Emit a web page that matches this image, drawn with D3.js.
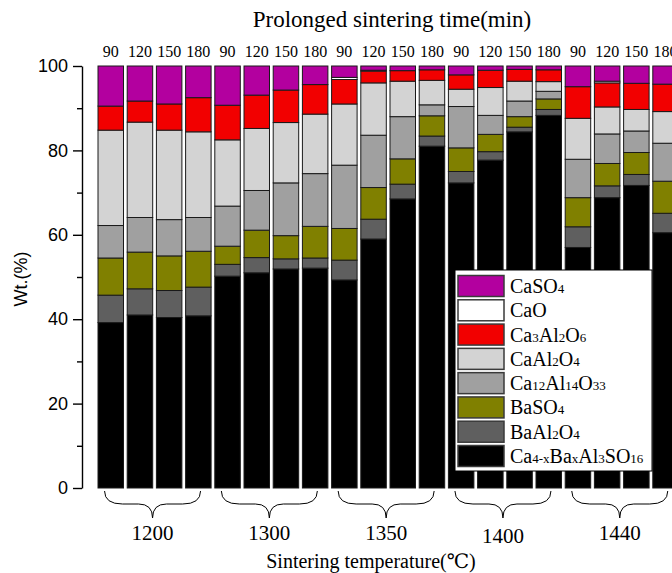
<!DOCTYPE html>
<html><head><meta charset="utf-8">
<script src="https://cdn.jsdelivr.net/npm/d3@7/dist/d3.min.js"></script>
<style>body{margin:0;background:#fff;} svg{display:block;}</style>
</head><body>
<svg id="chart" width="672" height="573"></svg>
<script>
// ---------------- DATA ----------------
const temperatures = ["1200", "1300", "1350", "1400", "1440"];
const times = ["90", "120", "150", "180"];
const yTicks = [0, 20, 40, 60, 80, 100];
const yMinorTicks = [10, 30, 50, 70, 90];

// bottom -> top stacking order
const phases = ["Ca4-xBaxAl3SO16", "BaAl2O4", "BaSO4", "Ca12Al14O33", "CaAl2O4", "Ca3Al2O6", "CaO", "CaSO4"];
const phaseColors = ["#000000", "#5f5f5f", "#808000", "#a0a0a0", "#d3d3d3", "#f20000", "#ffffff", "#b3009f"];

const caBaAlSO = [39.2, 41.0, 40.4, 40.8, 50.2, 51.0, 51.9, 52.1, 49.3, 59.0, 68.5, 81.0, 72.3, 77.7, 84.4, 88.3, 57.0, 68.8, 71.7, 60.5];
const baAl2O4  = [6.5, 6.2, 6.4, 6.8, 2.8, 3.6, 2.4, 2.4, 4.7, 4.7, 3.5, 2.4, 2.7, 2.0, 1.1, 1.4, 4.9, 2.8, 2.6, 4.6];
const baSO4    = [8.8, 8.7, 8.2, 8.5, 4.3, 6.5, 5.5, 7.5, 7.5, 7.5, 6.0, 4.8, 5.6, 4.1, 2.5, 2.5, 6.9, 5.3, 5.2, 7.6];
const ca12Al14O33 = [7.7, 8.2, 8.6, 8.0, 9.5, 9.4, 12.5, 12.5, 15.0, 12.4, 10.0, 2.6, 9.8, 4.5, 3.7, 1.8, 9.1, 7.0, 5.1, 9.0];
const caAl2O4  = [22.6, 22.6, 21.2, 20.3, 15.7, 14.7, 14.3, 14.1, 14.5, 12.4, 8.4, 5.8, 4.1, 6.6, 4.7, 2.3, 9.7, 6.4, 5.1, 7.5];
const ca3Al2O6 = [5.7, 5.0, 6.2, 8.1, 8.2, 7.9, 7.7, 7.0, 5.8, 2.8, 2.5, 2.5, 3.4, 4.1, 2.8, 2.8, 7.5, 5.7, 6.2, 6.5];
const caO      = [0, 0, 0, 0, 0, 0, 0, 0, 0.5, 0.2, 0, 0, 0, 0, 0, 0, 0, 0.4, 0, 0];
const caSO4    = [9.5, 8.3, 9.0, 7.5, 9.3, 6.9, 5.7, 4.4, 2.7, 1.0, 1.1, 0.9, 2.1, 1.0, 0.8, 0.9, 4.9, 3.6, 4.1, 4.3];

// legend (top -> bottom), label parts: [text, isSubscript]
const legendLabels = [
  [["CaSO", 0], ["4", 1]],
  [["CaO", 0]],
  [["Ca", 0], ["3", 1], ["Al", 0], ["2", 1], ["O", 0], ["6", 1]],
  [["CaAl", 0], ["2", 1], ["O", 0], ["4", 1]],
  [["Ca", 0], ["12", 1], ["Al", 0], ["14", 1], ["O", 0], ["33", 1]],
  [["BaSO", 0], ["4", 1]],
  [["BaAl", 0], ["2", 1], ["O", 0], ["4", 1]],
  [["Ca", 0], ["4-x", 1], ["Ba", 0], ["x", 1], ["Al", 0], ["3", 1], ["SO", 0], ["16", 1]]
];

// ---------------- BUILD ----------------
const seriesValues = [caBaAlSO, baAl2O4, baSO4, ca12Al14O33, caAl2O4, ca3Al2O6, caO, caSO4];
const rows = [];
temperatures.forEach((t, ti) => times.forEach((m, mi) => {
  const i = ti * times.length + mi;
  const r = { key: t + "-" + m, temp: t, time: m };
  phases.forEach((p, pi) => r[p] = seriesValues[pi][i]);
  rows.push(r);
}));

const svg = d3.select("#chart");
const serif = "Liberation Serif, Times New Roman, Tinos, Nimbus Roman, DejaVu Serif, Noto Serif, serif";
const sans = "Liberation Sans, Arial, sans-serif";

const x = d3.scaleBand().domain(rows.map(d => d.key)).range([96.15, 680.15])
  .paddingInner(0.127).paddingOuter(0.0635);
const y = d3.scaleLinear().domain([0, 100]).range([488, 66]);
const color = d3.scaleOrdinal().domain(phases).range(phaseColors);

const stacked = d3.stack().keys(phases)(rows);

svg.append("g").selectAll("g").data(stacked).join("g")
  .attr("fill", d => color(d.key))
  .selectAll("rect").data(d => d.filter(s => s[1] - s[0] > 0)).join("rect")
  .attr("x", d => x(d.data.key))
  .attr("width", x.bandwidth())
  .attr("y", d => y(d[1]))
  .attr("height", d => y(d[0]) - y(d[1]))
  .attr("stroke", "#1a1a1a")
  .attr("stroke-width", 1);

// time labels on top
svg.append("g").selectAll("text").data(rows).join("text")
  .attr("x", d => x(d.key) + x.bandwidth() / 2)
  .attr("y", 57)
  .attr("text-anchor", "middle")
  .style("font-family", serif).style("font-size", "16px")
  .text(d => d.time);

svg.append("text")
  .attr("x", 392).attr("y", 27)
  .attr("text-anchor", "middle")
  .style("font-family", serif).style("font-size", "23px")
  .text("Prolonged sintering time(min)");

// y axis
const yAxis = svg.append("g").attr("transform", "translate(82,0)")
  .call(d3.axisLeft(y).tickValues(yTicks).tickSize(9).tickSizeOuter(0).tickPadding(5));
yAxis.selectAll("text").style("font-family", sans).style("font-size", "18px").attr("fill", "#000");
yAxis.selectAll("line,path").attr("stroke", "#000").attr("stroke-width", 1.4);
const yMinor = svg.append("g").attr("transform", "translate(82,0)")
  .call(d3.axisLeft(y).tickValues(yMinorTicks).tickSize(5).tickSizeOuter(0).tickFormat(""));
yMinor.select("path").remove();
yMinor.selectAll("line").attr("stroke", "#000").attr("stroke-width", 1.4);

svg.append("text")
  .attr("transform", "translate(27,279) rotate(-90)")
  .attr("text-anchor", "middle")
  .style("font-family", sans).style("font-size", "18px")
  .text("Wt.(%)");

// braces and temperature labels (centered under each group of bars)
const groupCenter = t => {
  const first = x(t + "-" + times[0]);
  const last = x(t + "-" + times[times.length - 1]) + x.bandwidth();
  return (first + last) / 2 - 2;
};
const braceHalf = 48, bTop = 491, bMid = 504, bTip = 518;
svg.append("g").selectAll("path").data(temperatures).join("path")
  .attr("d", t => {
    const c = groupCenter(t), w = braceHalf;
    return `M${c - w},${bTop} Q${c - w},${bMid} ${c - w + 18},${bMid} L${c - 14},${bMid} Q${c},${bMid} ${c},${bTip} Q${c},${bMid} ${c + 14},${bMid} L${c + w - 18},${bMid} Q${c + w},${bMid} ${c + w},${bTop}`;
  })
  .attr("fill", "none").attr("stroke", "#000").attr("stroke-width", 1);

svg.append("g").selectAll("text").data(temperatures).join("text")
  .attr("x", t => groupCenter(t)).attr("y", t => t === "1400" ? 543 : 540)
  .attr("text-anchor", "middle")
  .style("font-family", serif).style("font-size", "21px")
  .text(t => t);

svg.append("text")
  .attr("x", 371).attr("y", 568)
  .attr("text-anchor", "middle")
  .style("font-family", serif).style("font-size", "20px")
  .text("Sintering temperature(℃)");

// legend
const legendOrder = phases.slice().reverse();
const lg = svg.append("g");
lg.append("rect").attr("x", 455).attr("y", 270).attr("width", 197).attr("height", 201)
  .attr("fill", "#fff").attr("stroke", "#000").attr("stroke-width", 1);
const ly = d3.scalePoint().domain(legendOrder).range([286, 456]);
const items = lg.selectAll("g.item").data(legendOrder).join("g").attr("class", "item");
items.append("rect")
  .attr("x", 458).attr("y", d => ly(d) - 10.5)
  .attr("width", 46).attr("height", 21)
  .attr("fill", d => color(d)).attr("stroke", "#3a3a3a").attr("stroke-width", 1.5);
items.append("text")
  .attr("x", 510).attr("y", d => ly(d) + 7)
  .style("font-family", serif).style("font-size", "20px")
  .each(function (d, i) {
    const t = d3.select(this);
    legendLabels[i].forEach(([s, sub]) => {
      t.append("tspan").style("font-size", sub ? "13px" : "20px").text(s);
    });
  });
</script>
</body></html>
